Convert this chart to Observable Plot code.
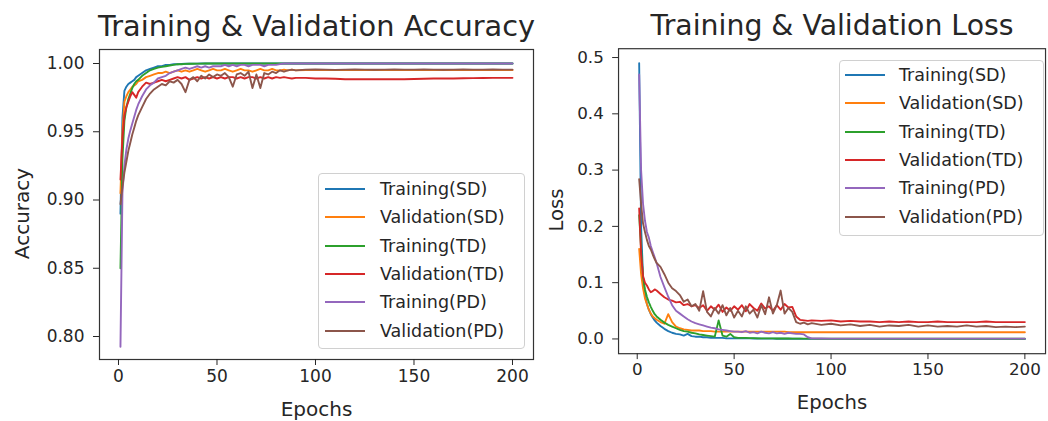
<!DOCTYPE html>
<html>
<head>
<meta charset="utf-8">
<script src="https://cdn.jsdelivr.net/npm/d3@7"></script>
<script src="https://cdn.jsdelivr.net/npm/@observablehq/plot@0.6"></script>
<style>
  html, body { margin: 0; padding: 0; background: white; overflow: hidden; }
  #wrap { position: relative; width: 1048px; height: 421px; overflow: hidden; background: white; font-family: 'DejaVu Sans', sans-serif; }
  .panel { position: absolute; top: 0; }
  .legend { position: absolute; box-sizing: border-box; border: 1px solid #d0d0d0; border-radius: 4px; background: rgba(255,255,255,0.8); }
  .legend .row { position: absolute; left: 0; height: 0; }
  .legend .sw { position: absolute; height: 2px; top: -1px; }
  .legend .lab { position: absolute; top: -11px; font-size: 17.5px; line-height: 22px; color: #262626; white-space: nowrap; }
</style>
</head>
<body>
<div id="wrap">
  <div id="left" class="panel" style="left:0px"></div>
  <div id="right" class="panel" style="left:560px"></div>
</div>
<script>
// ---------------- data ----------------
const seriesNames = ["Training(SD)", "Validation(SD)", "Training(TD)", "Validation(TD)", "Training(PD)", "Validation(PD)"];
const seriesColors = ["#1f77b4", "#ff7f0e", "#2ca02c", "#d62728", "#9467bd", "#8c564b"];

const epochs = [1,2,3,4,5,6,7,8,9,10,
  12,14,16,18,20,22,24,26,28,30,
  32,34,36,38,40,42,44,46,48,50,
  52,54,56,58,60,62,64,66,68,70,
  72,74,76,78,80,82,84,86,88,90,
  95,100,105,110,115,120,125,130,135,140,145,
  150,155,160,165,170,175,180,185,190,195,200];

const xTicks = [0, 50, 100, 150, 200];
const accTicks = [0.80, 0.85, 0.90, 0.95, 1.00];
const lossTicks = [0.0, 0.1, 0.2, 0.3, 0.4, 0.5];

// Accuracy
const accTrainSD = [0.890,0.960,0.980,0.983,0.985,0.986,0.987,0.988,0.990,0.991,
  0.993,0.995,0.996,0.997,0.998,0.998,0.999,0.999,0.9995,0.9995,
  0.9997,0.9998,0.9998,0.9999,0.9999,1,1,1,1,1,
  1,1,1,1,1,1,1,1,1,1,
  1,1,1,1,1,1,1,1,1,1,
  1,1,1,1,1,1,1,1,1,1,1,
  1,1,1,1,1,1,1,1,1,1,1];
const accValSD = [0.905,0.950,0.972,0.976,0.979,0.981,0.983,0.984,0.985,0.987,
  0.988,0.990,0.991,0.992,0.993,0.993,0.994,0.993,0.994,0.995,
  0.994,0.995,0.994,0.995,0.996,0.995,0.994,0.995,0.996,0.995,
  0.995,0.996,0.995,0.994,0.995,0.996,0.995,0.995,0.994,0.995,
  0.996,0.995,0.995,0.996,0.995,0.995,0.9955,0.995,0.9955,0.995,
  0.9952,0.9952,0.9952,0.9952,0.9952,0.9952,0.9952,0.9952,0.9952,0.9952,0.9952,
  0.9952,0.9952,0.9952,0.9952,0.9952,0.9952,0.9952,0.9952,0.9952,0.9952,0.9952];
const accTrainTD = [0.850,0.930,0.958,0.968,0.974,0.978,0.982,0.985,0.987,0.988,
  0.991,0.993,0.995,0.996,0.997,0.9975,0.998,0.9985,0.999,0.9995,
  0.9995,0.9997,0.9998,0.9998,0.9999,0.9999,1,1,1,1,
  1,1,1,1,1,1,1,1,1,1,
  1,1,1,1,1,1,1,1,1,1,
  1,1,1,1,1,1,1,1,1,1,1,
  1,1,1,1,1,1,1,1,1,1,1];
const accValTD = [0.915,0.945,0.962,0.968,0.972,0.976,0.979,0.977,0.975,0.979,
  0.983,0.986,0.985,0.986,0.987,0.988,0.987,0.988,0.989,0.990,
  0.989,0.990,0.988,0.989,0.990,0.989,0.990,0.989,0.990,0.989,
  0.990,0.989,0.990,0.990,0.989,0.990,0.989,0.990,0.990,0.989,
  0.990,0.989,0.990,0.989,0.990,0.9895,0.990,0.9895,0.989,0.9895,
  0.9895,0.989,0.989,0.9888,0.9885,0.9885,0.9885,0.9885,0.9885,0.9885,0.9885,
  0.9887,0.9888,0.989,0.989,0.989,0.9892,0.9893,0.9894,0.9895,0.9895,0.9895];
const accTrainPD = [0.7925,0.905,0.925,0.937,0.945,0.951,0.956,0.961,0.966,0.970,
  0.976,0.981,0.984,0.986,0.989,0.990,0.991,0.993,0.994,0.995,
  0.996,0.997,0.996,0.997,0.998,0.997,0.998,0.997,0.998,0.998,
  0.998,0.999,0.998,0.999,0.998,0.999,0.999,0.998,0.999,0.999,
  0.999,0.998,0.999,0.999,0.999,0.9995,1,1,1,1,
  1,1,1,1,1,1,1,1,1,1,1,
  1,1,1,1,1,1,1,1,1,1,1];
const accValPD = [0.897,0.910,0.920,0.928,0.936,0.942,0.948,0.953,0.958,0.962,
  0.968,0.974,0.978,0.981,0.983,0.985,0.984,0.987,0.986,0.988,
  0.985,0.979,0.988,0.990,0.987,0.991,0.989,0.992,0.990,0.992,
  0.991,0.993,0.990,0.983,0.992,0.993,0.991,0.994,0.982,0.992,
  0.982,0.993,0.992,0.994,0.993,0.995,0.994,0.995,0.9955,0.995,
  0.9955,0.9957,0.9955,0.9953,0.9955,0.9956,0.9955,0.9954,0.9955,0.9956,0.9955,
  0.9955,0.9956,0.9955,0.9954,0.9955,0.9956,0.9955,0.9955,0.9956,0.9955,0.9955];

// Loss
const lossTrainSD = [0.490,0.200,0.110,0.078,0.062,0.052,0.044,0.038,0.033,0.029,
  0.023,0.018,0.014,0.011,0.009,0.008,0.006,0.009,0.005,0.004,
  0.004,0.003,0.003,0.002,0.002,0.002,0.002,0.001,0.001,0.001,
  0.001,0.001,0.001,0.001,0.0008,0.0007,0.0006,0.0006,0.0005,0.0005,
  0.0004,0.0004,0.0004,0.0003,0.0003,0.0003,0.0003,0.0002,0.0002,0.0002,
  0.0002,0.0002,0.0001,0.0001,0.0001,0.0001,0.0001,0.0001,0.0001,0.0001,0.0001,
  0.0001,0.0001,0.0001,0.0001,0.0001,0.0001,0.0001,0.0001,0.0001,0.0001,0.0001];
const lossValSD = [0.160,0.115,0.090,0.072,0.062,0.052,0.045,0.040,0.037,0.034,
  0.030,0.027,0.044,0.030,0.022,0.019,0.017,0.016,0.015,0.015,
  0.015,0.014,0.014,0.014,0.013,0.013,0.013,0.013,0.013,0.013,
  0.013,0.013,0.013,0.013,0.013,0.013,0.013,0.013,0.013,0.013,
  0.013,0.013,0.013,0.012,0.012,0.012,0.012,0.012,0.012,0.012,
  0.012,0.012,0.012,0.012,0.012,0.012,0.012,0.012,0.012,0.012,0.012,
  0.012,0.012,0.012,0.012,0.012,0.012,0.012,0.012,0.012,0.012,0.012];
const lossTrainTD = [0.220,0.160,0.110,0.088,0.075,0.065,0.057,0.050,0.044,0.040,
  0.034,0.029,0.025,0.022,0.019,0.016,0.014,0.013,0.011,0.010,
  0.008,0.007,0.006,0.005,0.004,0.033,0.006,0.004,0.009,0.003,
  0.002,0.002,0.002,0.0015,0.0015,0.001,0.001,0.001,0.001,0.001,
  0.0008,0.0008,0.0007,0.0007,0.0006,0.0006,0.0005,0.0005,0.0005,0.0005,
  0.0004,0.0004,0.0004,0.0004,0.0004,0.0004,0.0004,0.0004,0.0004,0.0004,0.0004,
  0.0004,0.0004,0.0004,0.0004,0.0004,0.0004,0.0004,0.0004,0.0004,0.0004,0.0004];
const lossValTD = [0.232,0.150,0.112,0.100,0.095,0.088,0.083,0.085,0.088,0.086,
  0.080,0.074,0.070,0.068,0.065,0.066,0.060,0.062,0.058,0.060,
  0.055,0.060,0.050,0.058,0.052,0.061,0.048,0.056,0.050,0.058,
  0.052,0.060,0.049,0.062,0.055,0.050,0.063,0.054,0.058,0.050,
  0.060,0.052,0.062,0.056,0.057,0.040,0.034,0.033,0.032,0.033,
  0.032,0.033,0.031,0.032,0.031,0.031,0.030,0.031,0.030,0.031,0.030,
  0.030,0.031,0.030,0.030,0.030,0.030,0.031,0.030,0.030,0.030,0.030];
const lossTrainPD = [0.470,0.300,0.240,0.210,0.190,0.180,0.165,0.155,0.145,0.135,
  0.110,0.092,0.075,0.060,0.050,0.045,0.040,0.035,0.031,0.028,
  0.026,0.024,0.022,0.020,0.019,0.017,0.016,0.015,0.014,0.013,
  0.013,0.012,0.014,0.011,0.012,0.010,0.013,0.011,0.010,0.012,
  0.010,0.011,0.009,0.011,0.010,0.009,0.009,0.008,0.003,0.001,
  0.0008,0.0006,0.0005,0.0005,0.0005,0.0005,0.0005,0.0005,0.0005,0.0005,0.0005,
  0.0005,0.0005,0.0005,0.0005,0.0005,0.0005,0.0005,0.0005,0.0005,0.0005,0.0005];
const lossValPD = [0.284,0.240,0.205,0.190,0.176,0.165,0.159,0.150,0.142,0.135,
  0.128,0.115,0.100,0.090,0.085,0.078,0.066,0.070,0.058,0.062,
  0.050,0.085,0.048,0.040,0.055,0.045,0.060,0.042,0.055,0.038,
  0.050,0.040,0.058,0.045,0.052,0.038,0.060,0.044,0.074,0.045,
  0.060,0.086,0.045,0.055,0.048,0.030,0.027,0.029,0.026,0.028,
  0.025,0.027,0.024,0.026,0.023,0.025,0.022,0.024,0.023,0.025,0.022,
  0.024,0.022,0.023,0.022,0.024,0.022,0.023,0.021,0.022,0.021,0.022];

// ---------------- build ----------------
function toRows(list) {
  return list.flatMap((vals, k) => vals.map((v, i) => ({epoch: epochs[i], value: v, series: seriesNames[k]})));
}
const accRows = toRows([accTrainSD, accValSD, accTrainTD, accValTD, accTrainPD, accValPD]);
const lossRows = toRows([lossTrainSD, lossValSD, lossTrainTD, lossValTD, lossTrainPD, lossValPD]);

const ink = "#262626";
function panel({rows, width, marginLeft, marginRight, yDomain, yTicks, yFmt, title, yLabel, yLabelDx}) {
  return Plot.plot({
    width, height: 421,
    marginLeft, marginRight, marginTop: 49, marginBottom: 62,
    style: {fontFamily: "'DejaVu Sans', sans-serif", fontSize: "17px", color: ink, background: "white", overflow: "visible"},
    x: {domain: [-9.64, 210.66], label: null},
    y: {domain: yDomain, label: null},
    color: {domain: seriesNames, range: seriesColors},
    marks: [
      Plot.line(rows, {x: "epoch", y: "value", z: "series", stroke: "series", strokeWidth: 1.9, clip: true}),
      Plot.frame({stroke: "#333", strokeWidth: 1.2}),
      Plot.axisX({ticks: xTicks, tickSize: 6, tickPadding: 4, label: null, fontSize: 17}),
      Plot.axisY({ticks: yTicks, tickFormat: d3.format(yFmt), tickSize: 6, tickPadding: 9, label: null, fontSize: 17}),
      Plot.text([title], {text: d => d, frameAnchor: "top", dy: -23, fontSize: 28.8, fill: ink, lineAnchor: "middle"}),
      Plot.text(["Epochs"], {text: d => d, frameAnchor: "bottom", dy: 50, fontSize: 20, fill: ink, lineAnchor: "middle"}),
      Plot.text([yLabel], {text: d => d, frameAnchor: "left", dx: yLabelDx, dy: 9, rotate: -90, textAnchor: "middle", fontSize: 20, fill: ink, lineAnchor: "middle"})
    ]
  });
}

document.getElementById("left").appendChild(panel({
  rows: accRows, width: 560, marginLeft: 99, marginRight: 27,
  yDomain: [0.78315, 1.01026], yTicks: accTicks, yFmt: ".2f",
  title: "Training & Validation Accuracy", yLabel: "Accuracy", yLabelDx: -77
}));
document.getElementById("right").appendChild(panel({
  rows: lossRows, width: 496, marginLeft: 59, marginRight: 3,
  yDomain: [-0.0262, 0.5157], yTicks: lossTicks, yFmt: ".1f",
  title: "Training & Validation Loss", yLabel: "Loss", yLabelDx: -63
}));

function legend(left, top, width, height, firstRow, handleX, textX) {
  const box = document.createElement("div");
  box.className = "legend";
  Object.assign(box.style, {left: left + "px", top: top + "px", width: width + "px", height: height + "px"});
  seriesNames.forEach((name, k) => {
    const row = document.createElement("div");
    row.className = "row";
    row.style.top = (firstRow + k * 28.35) + "px";
    const sw = document.createElement("div");
    sw.className = "sw";
    Object.assign(sw.style, {left: handleX + "px", width: "40px", background: seriesColors[k]});
    const lab = document.createElement("div");
    lab.className = "lab";
    lab.style.left = textX + "px";
    lab.textContent = name;
    row.appendChild(sw); row.appendChild(lab);
    box.appendChild(row);
  });
  document.getElementById("wrap").appendChild(box);
}
legend(318, 173, 207, 176, 15, 6, 61);
legend(839, 60, 205, 176, 14, 5, 59);
</script>
</body>
</html>
